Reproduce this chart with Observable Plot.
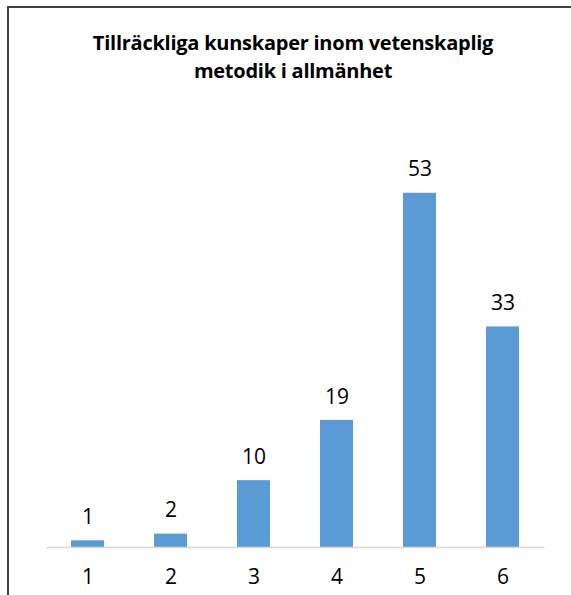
<!DOCTYPE html>
<html>
<head>
<meta charset="utf-8">
<script src="https://cdn.jsdelivr.net/npm/d3@7"></script>
<script src="https://cdn.jsdelivr.net/npm/@observablehq/plot@0.6"></script>
<style>
  html, body { margin: 0; padding: 0; background: #fff; }
  #wrap { position: relative; width: 571px; height: 595px; overflow: hidden; font-family: "Open Sans", "Liberation Sans", sans-serif; }
  #frame { position: absolute; left: 7px; top: 6px; width: 580px; height: 600px; border-left: 2px solid #404040; border-top: 2px solid #404040; box-sizing: border-box; }
  #title { position: absolute; left: 0; width: 586px; top: 29px; text-align: center; font-weight: bold; font-size: 20px; line-height: 28px; color: #000; letter-spacing: -0.25px; }
  #chart { position: absolute; left: 0; top: 100px; }
</style>
</head>
<body>
<div id="wrap">
  <div id="frame"></div>
  <div id="title">Tillräckliga kunskaper inom vetenskaplig<br>metodik i allmänhet</div>
  <div id="chart"></div>
</div>
<script>
const categories = ["1", "2", "3", "4", "5", "6"];
const values = [1, 2, 10, 19, 53, 33];

const data = categories.map((c, i) => ({ category: c, value: values[i] }));

const chart = Plot.plot({
  width: 571,
  height: 495,
  marginLeft: 46.5,
  marginRight: 26.5,
  marginTop: 46,
  marginBottom: 48,
  style: { fontFamily: "'Open Sans', 'Liberation Sans', sans-serif", background: "transparent" },
  x: { domain: categories, paddingInner: 0.6, paddingOuter: 0.3, label: null },
  y: { domain: [0, 60], axis: null },
  marks: [
    Plot.barY(data, { x: "category", y: "value", fill: "#5b9bd5" }),
    Plot.ruleY([0], { stroke: "#d9d9d9", strokeWidth: 1.5 }),
    Plot.text(data, { x: "category", y: "value", text: d => String(d.value), dy: -17, lineAnchor: "bottom", fontSize: 21, fill: "#000" }),
    Plot.axisX({ tickSize: 0, tickPadding: 22, fontSize: 21, label: null, color: "#000" })
  ]
});
document.getElementById("chart").appendChild(chart);
</script>
</body>
</html>
